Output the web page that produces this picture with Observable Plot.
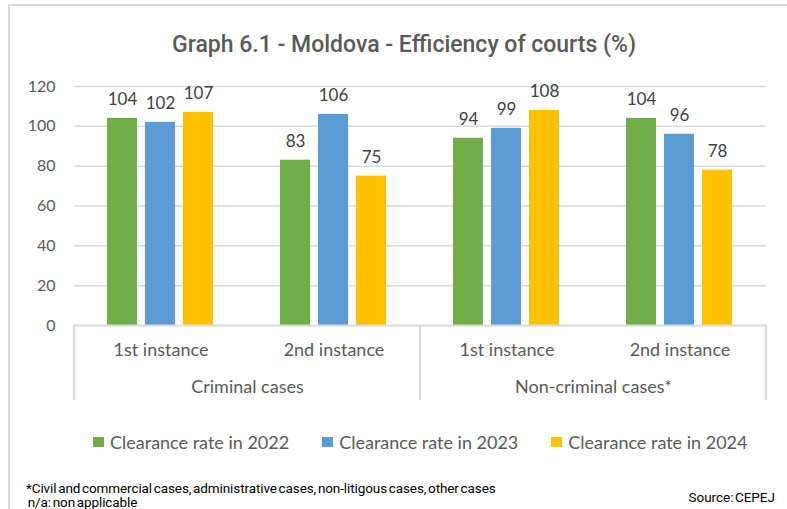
<!DOCTYPE html>
<html>
<head>
<meta charset="utf-8">
<script src="https://cdn.jsdelivr.net/npm/d3@7"></script>
<script src="https://cdn.jsdelivr.net/npm/@observablehq/plot@0.6"></script>
<style>
  html, body { margin: 0; padding: 0; background: #fff; width: 787px; height: 509px; overflow: hidden; }
  #frame { position: absolute; left: 8px; top: 4px; width: 900px; height: 600px; border-left: 2px solid #d9d9d9; border-top: 2px solid #d9d9d9; }
  #title { position: absolute; left: 0; top: 30px; width: 808px; text-align: center; font: 500 23px Roboto, sans-serif; color: #595959; line-height: 30px; }
  #chart { position: absolute; left: 0; top: 62px; }
  #legend { position: absolute; left: 93px; top: 431px; display: flex; font: 18px Lato, sans-serif; color: #595959; line-height: 22px; }
  .item { display: flex; align-items: center; margin-right: 33px; }
  .sw { width: 11px; height: 10px; margin-right: 6px; }
  #foot { position: absolute; left: 26px; top: 482px; font: 13.5px Roboto, sans-serif; word-spacing: -1.5px; letter-spacing: -0.1px; color: #000; line-height: 13.5px; white-space: pre; }
  #source { position: absolute; right: 12px; top: 491px; font: 13.5px Roboto, sans-serif; word-spacing: -2px; color: #000; line-height: 13.5px; }
</style>
</head>
<body>
<div id="frame"></div>
<div id="title">Graph 6.1 - Moldova - Efficiency of courts (%)</div>
<div id="chart"></div>
<div id="legend"></div>
<div id="foot">*Civil and commercial cases, administrative cases, non-litigous cases, other cases
 n/a: non applicable</div>
<div id="source">Source: CEPEJ</div>
<script>
const caseTypes = ["Criminal cases", "Non-criminal cases*"];
const instances = ["1st instance", "2nd instance"];
const series = ["Clearance rate in 2022", "Clearance rate in 2023", "Clearance rate in 2024"];
const rate2022 = [104, 83, 94, 104];
const rate2023 = [102, 106, 99, 96];
const rate2024 = [107, 75, 108, 78];
const yTicks = [0, 20, 40, 60, 80, 100, 120];
const colors = ["#70AD47", "#5B9BD5", "#FFC000"];

const groups = [];
caseTypes.forEach(c => instances.forEach(i => groups.push({key: c + "|" + i, caseType: c, instance: i})));
const groupKeys = groups.map(g => g.key);
const seriesValues = [rate2022, rate2023, rate2024];
const data = [];
groups.forEach((g, gi) => series.forEach((s, si) => data.push({group: g.key, series: s, value: seriesValues[si][gi]})));
const firstOfCase = groups.filter(g => g.instance === instances[0]);

const plot = Plot.plot({
  width: 787,
  height: 345,
  marginLeft: 72,
  marginRight: 20,
  marginTop: 24,
  marginBottom: 82,
  style: {fontFamily: "Lato, sans-serif", fontSize: "16px", color: "#595959", background: "transparent"},
  fx: {domain: groupKeys, padding: 0, axis: null, label: null},
  x: {domain: series, paddingInner: 0.205, paddingOuter: 0.83, axis: null},
  y: {domain: [0, 120], ticks: yTicks, tickSize: 0, tickPadding: 19, label: null, tickFormat: d => String(d)},
  color: {domain: series, range: colors},
  marks: [
    Plot.ruleY(yTicks.filter(t => t > 0), {stroke: "#d9d9d9", strokeWidth: 1.5}),
    Plot.barY(data, {fx: "group", x: "series", y: "value", fill: "series"}),
    Plot.ruleY([0], {stroke: "#d9d9d9", strokeWidth: 2}),
    Plot.text(data, {fx: "group", x: "series", y: "value", text: d => String(d.value), lineAnchor: "bottom", dy: -13, fill: "#404040", fontSize: 17}),
    Plot.text(groups, {fx: "key", text: "instance", frameAnchor: "bottom", dy: 30, fill: "#595959", fontSize: 18}),
    Plot.text(firstOfCase, {fx: "key", text: "caseType", frameAnchor: "bottom-right", textAnchor: "middle", dy: 67, fill: "#595959", fontSize: 18})
  ]
});
document.getElementById("chart").appendChild(plot);

// category box lines, positioned through the plot's own scales
const fx = plot.scale("fx");
const y = plot.scale("y");
const svg = d3.select(plot);
const y0 = y.apply(0);
const bw = fx.bandwidth;
const boundaries = [fx.apply(groupKeys[0]), fx.apply(groupKeys[2]), fx.apply(groupKeys[3]) + bw];
boundaries.forEach(bx => {
  svg.append("line").attr("x1", bx).attr("x2", bx).attr("y1", y0).attr("y2", y0 + 75)
    .attr("stroke", "#d9d9d9").attr("stroke-width", 2);
});

// legend
const legend = d3.select("#legend");
series.forEach((s, i) => {
  const it = legend.append("div").attr("class", "item");
  it.append("div").attr("class", "sw").style("background", colors[i]);
  it.append("span").text(s);
});
</script>
</body>
</html>
